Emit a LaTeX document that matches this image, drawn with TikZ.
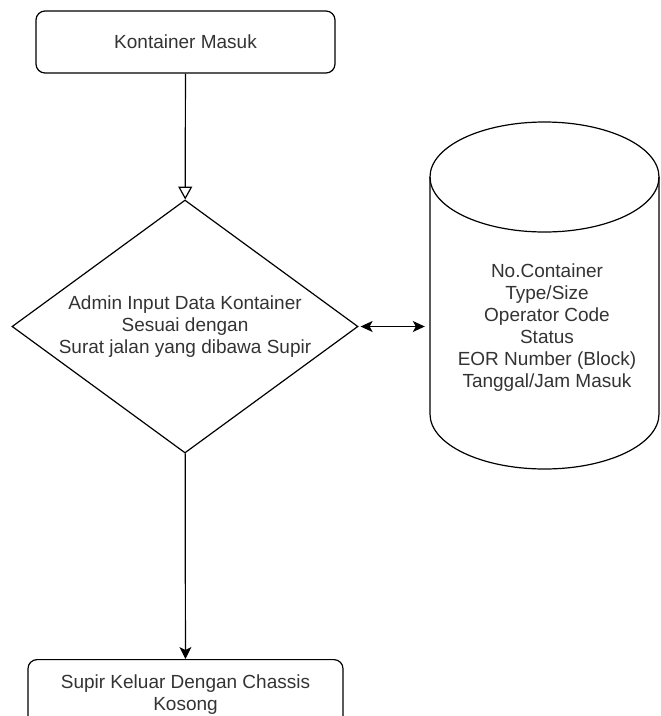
\documentclass[tikz,border=0pt]{standalone}
\usepackage{fontspec}
\setmainfont{Liberation Sans}
\usetikzlibrary{arrows.meta,shapes.geometric,positioning}

\tikzset{
  proc/.style={rectangle,draw,rounded corners=9pt,line width=1.2pt,align=center,text=black!80},
  flow/.style={line width=1.2pt},
}

\begin{document}
\begin{tikzpicture}[x=1pt,y=-1pt,font=\fontsize{19}{22}\selectfont]
\useasboundingbox (0,0) rectangle (661,716);
% Kontainer masuk flow
\node[proc,minimum width=299pt,minimum height=62pt] (masuk) at (185.5,42) {Kontainer Masuk};
\node[diamond,draw,line width=1.2pt,aspect=1.37,inner sep=0pt,minimum width=346pt,minimum height=253pt,align=center,text=black!80] (input) at (185,326.5) {Admin Input Data Kontainer\\Sesuai dengan\\Surat jalan yang dibawa Supir};
\node[proc,minimum width=315pt,minimum height=70pt,anchor=north] (keluar) at (185.5,659) {Supir Keluar Dengan Chassis\\Kosong};

% database cylinder
\node[inner sep=0pt,minimum width=229pt,minimum height=347pt] (db) at (544.5,295.5) {};
\draw[flow] (430,177) -- (430,414) arc[start angle=180,end angle=0,x radius=114.5,y radius=55] -- (659,177);
\draw[flow] (544.5,177) ellipse[x radius=114.5,y radius=55];
\node[align=center,text=black!80] (dbtext) at (547,328) {No.Container\\Type/Size\\Operator Code\\Status\\EOR Number (Block)\\Tanggal/Jam Masuk};

\draw[flow,-{Triangle[open,length=13pt,width=14pt]}] (masuk) -- (input);
\draw[flow,{Stealth[length=12pt,width=11pt,inset=3pt]}-{Stealth[length=12pt,width=11pt,inset=3pt]},shorten >=5pt,shorten <=2pt] (input.east) -- (input.east -| db.west);
\draw[flow,-{Stealth[length=12pt,width=12pt,inset=3pt]}] (input) -- (keluar);

\end{tikzpicture}
\end{document}
